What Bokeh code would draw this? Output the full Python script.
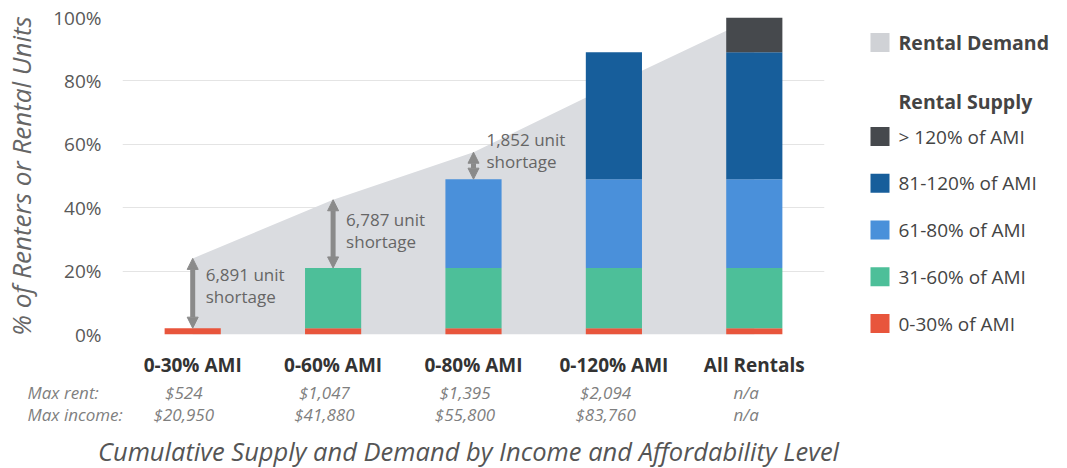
from bokeh.plotting import figure
from bokeh.layouts import column, row
from bokeh.models import (Range1d, FixedTicker, PrintfTickFormatter, Arrow, NormalHead,
                          ColumnDataSource)
from bokeh.core.properties import value
from bokeh.embed import file_html
from bokeh.resources import INLINE

# ---------------- data ----------------
categories = ["0-30% AMI", "0-60% AMI", "0-80% AMI", "0-120% AMI", "All Rentals"]
supply_0_30 = [2, 2, 2, 2, 2]
supply_31_60 = [0, 19, 19, 19, 19]
supply_61_80 = [0, 0, 28, 28, 28]
supply_81_120 = [0, 0, 0, 40, 40]
supply_over_120 = [0, 0, 0, 0, 11]
demand = [24, 42.5, 57.5, 79, 100]
shortage_labels = ["6,891 unit\nshortage", "6,787 unit\nshortage", "1,852 unit\nshortage"]
max_rent = ["$524", "$1,047", "$1,395", "$2,094", "n/a"]
max_income = ["$20,950", "$41,880", "$55,800", "$83,760", "n/a"]
y_ticks = [0, 20, 40, 60, 80, 100]
series_names = ["0-30% of AMI", "31-60% of AMI", "61-80% of AMI", "81-120% of AMI", "> 120% of AMI"]
series_colors = ["#E8553C", "#4DBF99", "#4A90DA", "#175E9B", "#46494D"]
demand_color = "#DADCE0"
demand_legend_color = "#D0D2D6"
title_text = "Cumulative Supply and Demand by Income and Affordability Level"

FONT = "Open Sans"

# ---------------- layout (page pixels) ----------------
TOTAL_W, TOTAL_H = 1067, 468
W_A, H_A = 850, 380           # main chart
FL, FR, FT, FB = 121, 824, 17, 334
step = (FR - FL) / len(categories)
shortage_text_dy = [-8, -3, -15]   # per-label vertical nudge (px)

# ---------------- main chart ----------------
p = figure(x_range=categories, y_range=Range1d(0, 100), width=W_A, height=H_A,
           output_backend="svg", toolbar_location=None,
           min_border_left=FL, min_border_right=W_A - FR,
           min_border_top=FT, min_border_bottom=H_A - FB)
p.outline_line_color = None

area = p.varea(x=categories, y1=[0] * len(categories), y2=demand, fill_color=demand_color)

keys = ["s1", "s2", "s3", "s4", "s5"]
src = ColumnDataSource(dict(cat=categories, s1=supply_0_30, s2=supply_31_60, s3=supply_61_80,
                            s4=supply_81_120, s5=supply_over_120))
bars = p.vbar_stack(keys, x="cat", width=0.4, source=src, fill_color=series_colors,
                    line_color=None)

supply_total = [sum(v) for v in zip(supply_0_30, supply_31_60, supply_61_80,
                                     supply_81_120, supply_over_120)]
arrow_color = "#8A8A8A"
short_idx = [i for i in range(len(categories)) if demand[i] > supply_total[i]]
for i in short_idx:
    p.add_layout(Arrow(x_start=i + 0.5, y_start=supply_total[i], x_end=i + 0.5, y_end=demand[i],
                       line_color=arrow_color, line_width=5,
                       start=NormalHead(size=11, fill_color=arrow_color, line_color=arrow_color),
                       end=NormalHead(size=11, fill_color=arrow_color, line_color=arrow_color)))
p.text(x=[categories[i] for i in short_idx],
       y=[(supply_total[i] + demand[i]) / 2 for i in short_idx],
       text=shortage_labels[:len(short_idx)], x_offset=13,
       y_offset=shortage_text_dy[:len(short_idx)],
       text_align="left", text_baseline="middle", text_font=value(FONT),
       text_font_size="17px", text_color="#666666", text_line_height=0.95)

p.yaxis.ticker = FixedTicker(ticks=y_ticks)
p.yaxis.formatter = PrintfTickFormatter(format="%d%%")
p.yaxis.axis_line_color = None
p.yaxis.major_tick_line_color = None
p.yaxis.minor_tick_line_color = None
p.yaxis.major_tick_out = 0
p.yaxis.major_label_standoff = 21
p.yaxis.major_label_text_font = FONT
p.yaxis.major_label_text_font_size = "19px"
p.yaxis.major_label_text_color = "#595959"
p.yaxis.axis_label = "% of Renters or Rental Units"
p.yaxis.axis_label_text_font = FONT
p.yaxis.axis_label_text_font_style = "italic"
p.yaxis.axis_label_text_font_size = "26px"
p.yaxis.axis_label_text_color = "#666666"
p.yaxis.axis_label_standoff = 11

p.xaxis.axis_line_color = None
p.xaxis.major_tick_line_color = None
p.xaxis.major_tick_out = 0
p.xaxis.major_label_standoff = 17
p.xaxis.major_label_text_font = FONT
p.xaxis.major_label_text_font_style = "bold"
p.xaxis.major_label_text_font_size = "19px"
p.xaxis.major_label_text_color = "#333333"

p.xgrid.grid_line_color = None
p.ygrid.grid_line_color = "#E4E4E4"

# ---------------- legend panel (right; its frame is aligned with the chart frame) ----------------
W_L = TOTAL_W - W_A
pl = figure(width=W_L, height=H_A, x_range=Range1d(W_A, TOTAL_W), y_range=Range1d(FB, FT),
            output_backend="svg", toolbar_location=None, min_border=0,
            x_axis_location=None, y_axis_location=None)
pl.outline_line_color = None
pl.xgrid.grid_line_color = None
pl.ygrid.grid_line_color = None

SW_X, SW = 879.5, 19          # swatch centre x and size
LBL_X = 898
DEMAND_Y, HEAD_Y, FIRST_Y, PITCH = 42, 101, 136, 46.75
leg_names = list(reversed(series_names))
leg_colors = list(reversed(series_colors))
leg_y = [FIRST_Y + k * PITCH for k in range(len(leg_names))]

pl.rect(x=[SW_X], y=[DEMAND_Y], width=SW, height=SW, fill_color=demand_legend_color, line_color=None)
pl.text(x=[LBL_X], y=[DEMAND_Y], text=["Rental Demand"], text_align="left", text_baseline="middle",
        text_font=value(FONT), text_font_style="bold", text_font_size="19.5px", text_color="#444444")
pl.text(x=[LBL_X], y=[HEAD_Y], text=["Rental Supply"], text_align="left", text_baseline="middle",
        text_font=value(FONT), text_font_style="bold", text_font_size="19.5px", text_color="#444444")
pl.rect(x=[SW_X] * len(leg_y), y=leg_y, width=SW, height=SW, fill_color=leg_colors, line_color=None)
pl.text(x=[LBL_X] * len(leg_y), y=leg_y, text=leg_names, text_align="left", text_baseline="middle",
        text_font=value(FONT), text_font_size="19px", text_color="#444444")

# ---------------- rows under the chart ----------------
H_B = TOTAL_H - H_A
pb = figure(width=TOTAL_W, height=H_B, x_range=Range1d(-FL / step, (TOTAL_W - FL) / step),
            y_range=Range1d(TOTAL_H, H_A), output_backend="svg", toolbar_location=None,
            min_border=0, x_axis_location=None, y_axis_location=None)
pb.outline_line_color = None
pb.xgrid.grid_line_color = None
pb.ygrid.grid_line_color = None
row_style = dict(text_font=value(FONT), text_font_style="italic", text_font_size="17px",
                 text_color="#7F7F7F", text_baseline="middle")
centers = [i + 0.5 for i in range(len(categories))]
pb.text(x=[(27 - FL) / step] * 2, y=[392, 414], text=["Max rent:", "Max income:"],
        text_align="left", **row_style)
pb.text(x=centers, y=[392] * len(centers), text=max_rent, x_offset=-8, text_align="center", **row_style)
pb.text(x=centers, y=[414] * len(centers), text=max_income, x_offset=-8, text_align="center", **row_style)
pb.text(x=[(468 - FL) / step], y=[450], text=[title_text], text_align="center", text_baseline="middle",
        text_font=value(FONT), text_font_style="italic", text_font_size="25.5px", text_color="#555555")

layout = column(row(p, pl), pb)
open("out.html", "w").write(file_html(layout, INLINE))
